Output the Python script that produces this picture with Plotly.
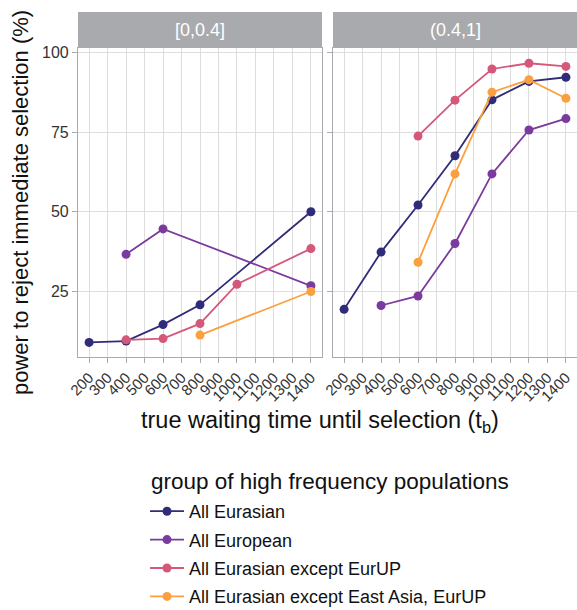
import plotly.graph_objects as go
from plotly.subplots import make_subplots

# ---- data ----
panels = ["[0,0.4]", "(0.4,1]"]
groups = ["All Eurasian", "All European", "All Eurasian except EurUP",
          "All Eurasian except East Asia, EurUP"]
colors = ["#302C79", "#7B3A9D", "#D5587A", "#FBA03E"]

x_ticks = [200, 300, 400, 500, 600, 700, 800, 900, 1000, 1100, 1200, 1300, 1400]
y_ticks = [25, 50, 75, 100]

# panel [0,0.4]
left_eurasian_x = [200, 400, 600, 800, 1400]
left_eurasian_y = [8.9, 9.3, 14.5, 20.7, 50.0]
left_european_x = [400, 600, 1400]
left_european_y = [36.6, 44.6, 26.7]
left_exeurup_x = [400, 600, 800, 1000, 1400]
left_exeurup_y = [9.7, 10.1, 14.8, 27.2, 38.4]
left_exea_x = [800, 1400]
left_exea_y = [11.2, 24.9]

# panel (0.4,1]
right_eurasian_x = [200, 400, 600, 800, 1000, 1200, 1400]
right_eurasian_y = [19.3, 37.3, 52.1, 67.6, 85.2, 91.0, 92.3]
right_european_x = [400, 600, 800, 1000, 1200, 1400]
right_european_y = [20.5, 23.5, 40.0, 61.9, 75.7, 79.3]
right_exeurup_x = [600, 800, 1000, 1200, 1400]
right_exeurup_y = [73.8, 85.1, 94.9, 96.7, 95.7]
right_exea_x = [600, 800, 1000, 1200, 1400]
right_exea_y = [34.1, 61.9, 87.6, 91.5, 85.7]

left_data = [(left_eurasian_x, left_eurasian_y), (left_european_x, left_european_y),
             (left_exeurup_x, left_exeurup_y), (left_exea_x, left_exea_y)]
right_data = [(right_eurasian_x, right_eurasian_y), (right_european_x, right_european_y),
              (right_exeurup_x, right_exeurup_y), (right_exea_x, right_exea_y)]

FONT = "Liberation Sans, Arial, sans-serif"
W, H = 577, 610
ml, mr, mt = 78, 0, 12
plot_bottom = 357
mb = H - plot_bottom
gap_px = 11
strip_px = 36
plot_w = W - ml - mr
plot_h = H - mt - mb


def px_x(x):  # pixel -> paper x
    return (x - ml) / plot_w


def px_y(y):  # pixel -> paper y
    return (plot_bottom - y) / plot_h


fig = make_subplots(rows=1, cols=2, shared_yaxes=True,
                    horizontal_spacing=gap_px / plot_w)

for col, data in [(1, left_data), (2, right_data)]:
    for i, (xs, ys) in enumerate(data):
        fig.add_trace(go.Scatter(
            x=xs, y=ys, mode="lines+markers", name=groups[i],
            legendgroup=groups[i], showlegend=(col == 1),
            line=dict(color=colors[i], width=1.8),
            marker=dict(color=colors[i], size=9),
            cliponaxis=False,
        ), row=1, col=col)

ydom_top = (plot_h - strip_px) / plot_h

axis_common = dict(showline=True, linecolor="#A9AAAD", linewidth=1.2, mirror=True,
                   showgrid=True, gridcolor="#DEDEDE", gridwidth=1,
                   ticks="outside", ticklen=5, tickcolor="#A9AAAD",
                   tickfont=dict(family=FONT, size=16, color="#333333"),
                   zeroline=False, automargin=False)

for c in (1, 2):
    fig.update_xaxes(range=[140, 1460], tickvals=x_ticks,
                     ticktext=[str(v) for v in x_ticks], tickangle=-45,
                     row=1, col=c, **axis_common)
    fig.update_yaxes(range=[4.3, 101.5], tickvals=y_ticks, domain=[0, ydom_top],
                     row=1, col=c, **axis_common)
fig.update_xaxes(tickfont=dict(family=FONT, size=15, color="#333333"))

# strips
shapes = []
annotations = []
for c, label in zip((1, 2), panels):
    xa = fig.layout["xaxis" if c == 1 else "xaxis2"]
    x0, x1 = xa.domain
    shapes.append(dict(type="rect", xref="paper", yref="paper", x0=x0, x1=x1,
                       y0=ydom_top, y1=1, fillcolor="#A9AAAD", line=dict(width=0)))
    annotations.append(dict(text=label, xref="paper", yref="paper",
                            x=(x0 + x1) / 2, y=(ydom_top + 1) / 2, showarrow=False,
                            xanchor="center", yanchor="middle",
                            font=dict(family=FONT, size=18, color="white")))

# axis titles
annotations.append(dict(text="true waiting time until selection (t<sub>b</sub>)",
                        xref="paper", yref="paper", x=px_x(320), y=px_y(421),
                        showarrow=False, xanchor="center", yanchor="middle",
                        font=dict(family=FONT, size=23.5, color="#111111")))
annotations.append(dict(text="power to reject immediate selection (%)",
                        xref="paper", yref="paper", x=px_x(20), y=px_y(203),
                        showarrow=False, textangle=-90,
                        xanchor="center", yanchor="middle",
                        font=dict(family=FONT, size=22, color="#111111")))
# legend title
annotations.append(dict(text="group of high frequency populations",
                        xref="paper", yref="paper", x=px_x(149), y=px_y(481),
                        showarrow=False, xanchor="left", yanchor="middle",
                        font=dict(family=FONT, size=22.5, color="#111111")))

fig.update_layout(
    width=W, height=H, margin=dict(l=ml, r=mr, t=mt, b=mb, autoexpand=False),
    paper_bgcolor="white", plot_bgcolor="white",
    shapes=shapes, annotations=annotations,
    font=dict(family=FONT, color="#111111"),
    legend=dict(
        font=dict(family=FONT, size=18, color="#111111"),
        orientation="v", x=px_x(145), xanchor="left",
        y=px_y(493), yanchor="top",
        tracegroupgap=2, itemwidth=34, bgcolor="rgba(0,0,0,0)",
    ),
)

fig.write_html("out.html", config={"displayModeBar": False},
               post_script="document.body.style.margin='0';")
